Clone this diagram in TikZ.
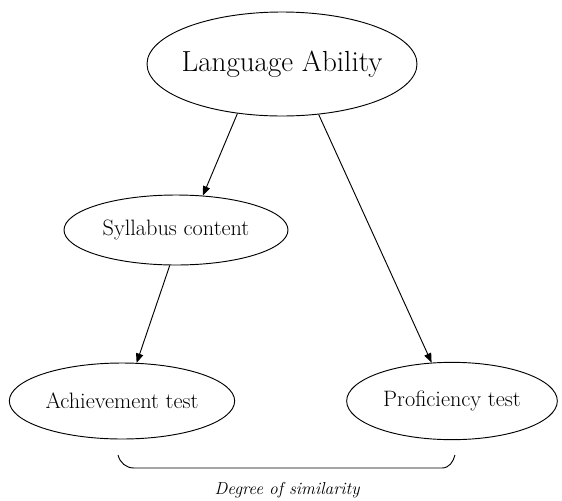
\documentclass[tikz,border=0pt]{standalone}
\usetikzlibrary{shapes.geometric,arrows.meta,calc}
\newcommand{\zerowidthlabel}[1]{\makebox[0pt]{#1}}
\begin{document}
\begin{tikzpicture}[x=0.75pt,y=-0.75pt,
  bubble/.style={draw,ellipse,line width=0.7pt,inner sep=0pt},
  link/.style={line width=0.7pt,-{Triangle[length=7pt,width=5.5pt]}},
  bigtext/.style={font=\fontsize{21.8}{26}\selectfont},
  midtext/.style={font=\fontsize{16.7}{20}\selectfont},
  smalltext/.style={font=\fontsize{13}{16}\selectfont\itshape}]
\useasboundingbox (0,0) rectangle (562,501);

% ellipses (text boxed at zero width so the outline keeps its set size)
\node[bubble,bigtext,minimum width=202.5pt,minimum height=78pt] (la) at (282,64) {\zerowidthlabel{Language Ability}};
\node[bubble,midtext,minimum width=168pt,minimum height=52.5pt] (sc) at (176,230) {\zerowidthlabel{Syllabus content}};
\node[bubble,midtext,minimum width=169pt,minimum height=57pt] (at) at (122,401) {\zerowidthlabel{Achievement test}};
\node[bubble,midtext,minimum width=158pt,minimum height=58pt] (pt) at (452,401) {\zerowidthlabel{Proficiency test}};

% arrows
\draw[link] (la.228) -- (sc.52);
\draw[link] (la.306) -- (pt.118);
\draw[link] (sc.260) -- (at.69);

% bracket under the two tests
\coordinate (bl) at (118,455);
\coordinate (br) at (455,455);
\draw[line width=0.7pt] (bl) to[out=-75,in=180] ($(bl)+(16,13)$) -- ($(br)+(-13,13)$) to[out=0,in=-105] (br);

\node[smalltext] (deg) at (287,490) {Degree of similarity};
\end{tikzpicture}
\end{document}
